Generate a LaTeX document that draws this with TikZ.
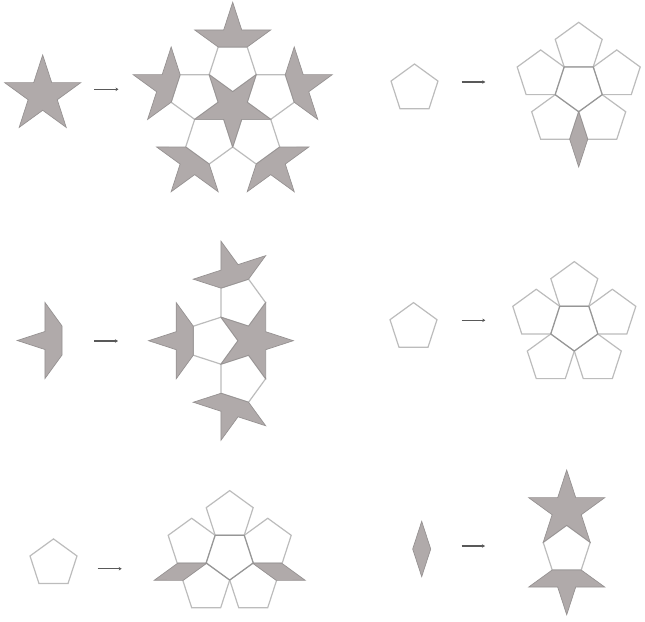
\documentclass[tikz,border=0pt]{standalone}
\usetikzlibrary{arrows.meta}
\definecolor{tilefill}{RGB}{176,170,170}
\definecolor{tileedge}{RGB}{150,146,146}
\definecolor{pentedge}{RGB}{188,188,188}
\definecolor{coreedge}{RGB}{150,150,150}
\tikzset{
  pentline/.style={draw=pentedge, fill=white, line width=1.2pt, line join=miter},
  darkpart/.style={draw=tileedge, fill=tilefill, line width=0.7pt, line join=miter},
  steparrow/.style={draw=black!65, line width=1.2pt, -{Stealth[length=3pt,width=3.5pt]}},
  penttile/.pic={\draw[pentline] (90:24.7) -- (162:24.7) -- (234:24.7) -- (306:24.7) -- (18:24.7) -- cycle;},
  coretile/.pic={\draw[pentline, draw=coreedge] (90:24.7) -- (162:24.7) -- (234:24.7) -- (306:24.7) -- (18:24.7) -- cycle;},
  startile/.pic={\draw[darkpart] (90:40) -- (54:15.3) -- (18:40) -- (-18:15.3) -- (-54:40) -- (-90:15.3)
    -- (-126:40) -- (-162:15.3) -- (162:40) -- (126:15.3) -- cycle;},
  crowntile/.pic={\draw[darkpart] (90:40) -- (54:15.3) -- (18:40) -- (14.5,-4.7) -- (-14.5,-4.7)
    -- (162:40) -- (126:15.3) -- cycle;},
  kitetile/.pic={\draw[darkpart] (0,27.6) -- (9,0) -- (0,-27.6) -- (-9,0) -- cycle;}
}
\begin{document}
\begin{tikzpicture}[x=1pt, y=1pt]
  \useasboundingbox (0,-621) rectangle (645,0);

  % star to star, five pentagons and five crowns
  \pic at (42.7,-95) {startile};
  \coordinate (a1) at (94,-89.3);
  \coordinate (b1) at (118.5,-89.3);
  \draw[steparrow] (a1) -- (b1);
  \begin{scope}[shift={(232.7,-107)}]
    \pic[rotate=180] at (90:40) {penttile};
    \pic[rotate=180] at (162:40) {penttile};
    \pic[rotate=180] at (234:40) {penttile};
    \pic[rotate=180] at (306:40) {penttile};
    \pic[rotate=180] at (18:40) {penttile};
    \pic[rotate=0] at (90:64.7) {crowntile};
    \pic[rotate=72] at (162:64.7) {crowntile};
    \pic[rotate=144] at (234:64.7) {crowntile};
    \pic[rotate=216] at (306:64.7) {crowntile};
    \pic[rotate=-72] at (18:64.7) {crowntile};
    \pic[rotate=180] at (0,0) {startile};
  \end{scope}

  % crown to star, three pentagons and three crowns
  \pic[rotate=90] at (57.3,-340.5) {crowntile};
  \coordinate (a2) at (94.3,-341);
  \coordinate (b2) at (118,-341);
  \draw[steparrow] (a2) -- (b2);
  \begin{scope}[shift={(253.3,-340.7)}]
    \pic[rotate=198] at (108:40) {penttile};
    \pic[rotate=270] at (180:40) {penttile};
    \pic[rotate=342] at (252:40) {penttile};
    \pic[rotate=18] at (108:64.7) {crowntile};
    \pic[rotate=90] at (180:64.7) {crowntile};
    \pic[rotate=162] at (252:64.7) {crowntile};
    \pic[rotate=-90] at (0,0) {startile};
  \end{scope}

  % pentagon to six pentagons and two kites
  \pic at (53.5,-563.6) {penttile};
  \coordinate (a3) at (97.7,-568.7);
  \coordinate (b3) at (121.7,-568.7);
  \draw[steparrow] (a3) -- (b3);
  \begin{scope}[shift={(229.7,-555.3)}]
    \pic at (90:40) {penttile};
    \pic at (162:40) {penttile};
    \pic at (234:40) {penttile};
    \pic at (306:40) {penttile};
    \pic at (18:40) {penttile};
    \pic[rotate=180] at (0,0) {coretile};
    \pic[rotate=-72] at (-49.3,-16.5) {kitetile};
    \pic[rotate=72] at (49.3,-16.5) {kitetile};
  \end{scope}

  % pentagon to six pentagons and one kite
  \pic at (414.5,-88.7) {penttile};
  \coordinate (a4) at (461.7,-82);
  \coordinate (b4) at (485.3,-82);
  \draw[steparrow] (a4) -- (b4);
  \begin{scope}[shift={(578.7,-87)}]
    \pic at (90:40) {penttile};
    \pic at (162:40) {penttile};
    \pic at (234:40) {penttile};
    \pic at (306:40) {penttile};
    \pic at (18:40) {penttile};
    \pic[rotate=180] at (0,0) {coretile};
    \pic at (0,-52.3) {kitetile};
  \end{scope}

  % pentagon to six pentagons
  \pic at (413.5,-327.3) {penttile};
  \coordinate (a5) at (461.7,-320.3);
  \coordinate (b5) at (485.3,-320.3);
  \draw[steparrow] (a5) -- (b5);
  \begin{scope}[shift={(574.3,-326.3)}]
    \pic at (90:40) {penttile};
    \pic at (162:40) {penttile};
    \pic at (234:40) {penttile};
    \pic at (306:40) {penttile};
    \pic at (18:40) {penttile};
    \pic[rotate=180] at (0,0) {coretile};
  \end{scope}

  % kite to star, pentagon and crown
  \pic at (421.7,-549) {kitetile};
  \coordinate (a6) at (461.7,-546);
  \coordinate (b6) at (485,-546);
  \draw[steparrow] (a6) -- (b6);
  \pic at (566.7,-550) {penttile};
  \pic at (566.7,-510) {startile};
  \pic[rotate=180] at (566.7,-574.7) {crowntile};

\end{tikzpicture}
\end{document}
